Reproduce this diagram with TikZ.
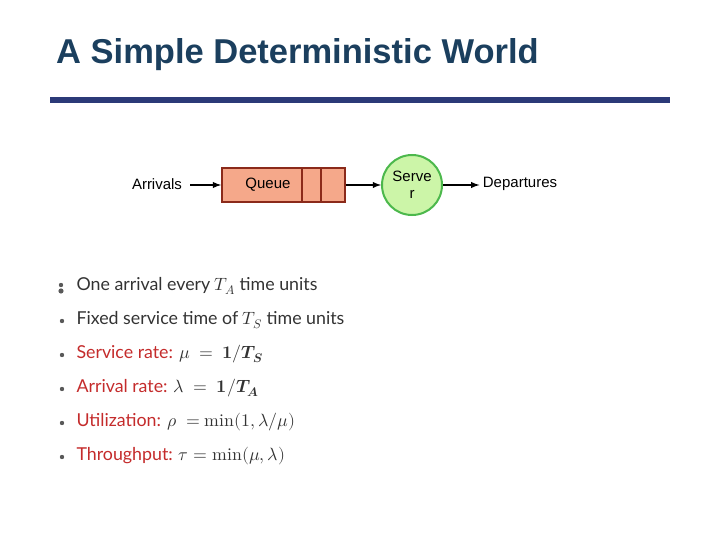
\documentclass[tikz,border=0pt]{standalone}
\usepackage{fontspec}
\setmainfont{Liberation Sans}
\newfontfamily\bulfont{Lato}
\usepackage{unicode-math}
\setmathfont{Latin Modern Math}
\begin{document}
\begin{tikzpicture}[x=1pt,y=-1pt,
  arr/.style={-latex,line width=1.8pt},
  lbl/.style={font=\fontsize{15}{17}\selectfont},
  bul/.style={anchor=west,font=\bulfont\fontsize{17.8}{20}\selectfont,text=black!80},
  dot/.style={fill=black!65}]
\definecolor{titleblue}{HTML}{1B3F5E}
\definecolor{barblue}{HTML}{2B3A78}
\definecolor{qfill}{HTML}{F5A88A}
\definecolor{qdraw}{HTML}{8B2A1A}
\definecolor{sfill}{HTML}{CCF5A8}
\definecolor{sdraw}{HTML}{4CB84C}
\definecolor{bred}{HTML}{C42B2B}
\useasboundingbox (0,0) rectangle (720,540);
\node[anchor=west,text=titleblue,font=\bfseries\fontsize{34.5}{38}\selectfont,inner sep=0] (title) at (56,55) {A Simple Deterministic World};
\fill[barblue] (50,97) rectangle (670,103);
\node[lbl] (arr) at (157,184) {Arrivals};
\node[draw=qdraw,fill=qfill,line width=1.8pt,minimum width=123pt,minimum height=34pt,inner sep=0] (q) at (283.5,185) {};
\node[lbl] at (268,185) {Queue};
\draw[qdraw,line width=1.8pt] (302,168) -- (302,202) (321,168) -- (321,202);
\node[circle,draw=sdraw,fill=sfill,line width=2pt,minimum size=60pt,inner sep=0,lbl,align=center] (s) at (412,185) {Serve\\r};
\node[lbl] (dep) at (520,184) {Departures};
\coordinate (a0) at (190,185);
\draw[arr] (a0) -- (q.west);
\draw[arr] (q.east) -- (s.west);
\draw[arr] (s.east) -- (s.east -| dep.west);
\foreach \y in {321,355,389,423,457} \fill[dot] (62,\y) circle (2.2pt);
\fill[dot] (61,285) circle (2.2pt);
\fill[dot] (61,291) circle (2.6pt);
\node[bul] (b1) at (73,286) {One arrival every $T_A$ time units};
\node[bul] (b2) at (73,320) {Fixed service time of $T_S$ time units};
\node[bul] (b3) at (73,354) {\textcolor{bred}{Service rate:} $\mu\ =\ \symbf{1}/\symbfit{T}_{\symbfit{S}}$};
\node[bul] (b4) at (73,388) {\textcolor{bred}{Arrival rate:} $\lambda\ =\ \symbf{1}/\symbfit{T}_{\symbfit{A}}$};
\node[bul] (b5) at (73,422) {\textcolor{bred}{Utilization:} $\rho\ = \symup{min}(1,\lambda/\mu)$};
\node[bul] (b6) at (73,456) {\textcolor{bred}{Throughput:} $\tau = \symup{min}(\mu,\lambda)$};
\end{tikzpicture}
\end{document}
